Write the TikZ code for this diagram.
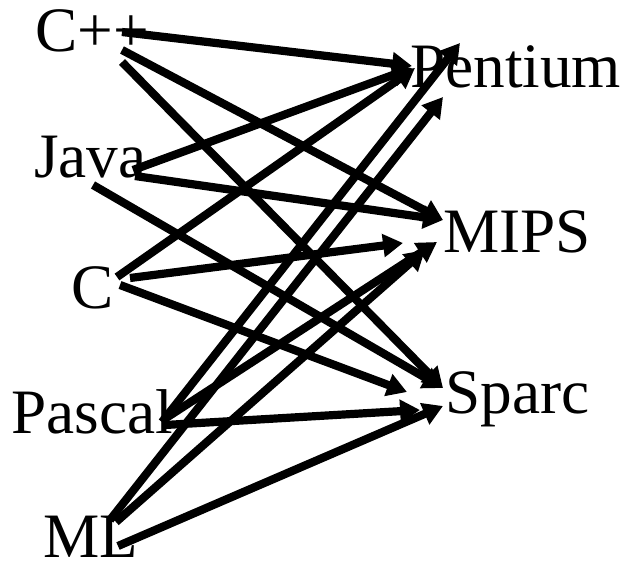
\documentclass[tikz,border=0pt]{standalone}
\usepackage{fontspec}
\setmainfont{Liberation Serif}
\usetikzlibrary{arrows.meta}
\begin{document}
\begin{tikzpicture}[x=0.03cm,y=-0.03cm,
  lbl/.style={anchor=base west,inner sep=0pt,font=\fontsize{54}{54}\selectfont},
  arr/.style={line width=7pt,-{Triangle[length=17pt,width=19pt]}}]
\useasboundingbox (0,0) rectangle (627,565);
% language nodes
\node[lbl] (cpp) at (35,52) {C++};
\node[lbl] (java) at (34,177) {Java};
\node[lbl] (c) at (71,308) {C};
\node[lbl] (pascal) at (11,433) {Pascal};
\node[lbl] (ml) at (43,557) {ML};
% processor nodes
\node[lbl] (pen) at (410,88) {Pentium};
\node[lbl] (mips) at (443,252) {MIPS};
\node[lbl] (sparc) at (445,413) {Sparc};
% ports
\coordinate (cppA) at (122,32);
\coordinate (cppB) at (122,50);
\coordinate (cppC) at (122,62);
\coordinate (javaA) at (133,170);
\coordinate (javaB) at (135,176);
\coordinate (javaC) at (93,185);
\coordinate (cA) at (117,277);
\coordinate (cB) at (130,278);
\coordinate (cC) at (120,285);
\coordinate (pasA) at (162,422);
\coordinate (pasB) at (163,420);
\coordinate (pasC) at (165,425);
\coordinate (mlA) at (110,520);
\coordinate (mlB) at (116,522);
\coordinate (mlC) at (118,546);
\coordinate (penA) at (412,66);
\coordinate (penB) at (412,68);
\coordinate (penC) at (415,68);
\coordinate (penD) at (460,43);
\coordinate (penE) at (443,97);
\coordinate (mipsA) at (443,220);
\coordinate (mipsB) at (403,243);
\coordinate (mipsC) at (437,242);
\coordinate (mipsD) at (425,250);
\coordinate (sparcA) at (443,388);
\coordinate (sparcB) at (407,392);
\coordinate (sparcC) at (420,410);
\coordinate (sparcD) at (443,406);
% connectors
\draw[arr] (cppA) -- (penA);
\draw[arr] (cppB) -- (mipsA);
\draw[arr] (cppC) -- (sparcA);
\draw[arr] (javaA) -- (penB);
\draw[arr] (javaB) -- (mipsA);
\draw[arr] (javaC) -- (sparcA);
\draw[arr] (cA) -- (penC);
\draw[arr] (cB) -- (mipsB);
\draw[arr] (cC) -- (sparcB);
\draw[arr] (pasA) -- (penD);
\draw[arr] (pasB) -- (mipsC);
\draw[arr] (pasC) -- (sparcC);
\draw[arr] (mlA) -- (penE);
\draw[arr] (mlB) -- (mipsD);
\draw[arr] (mlC) -- (sparcD);
\end{tikzpicture}
\end{document}
